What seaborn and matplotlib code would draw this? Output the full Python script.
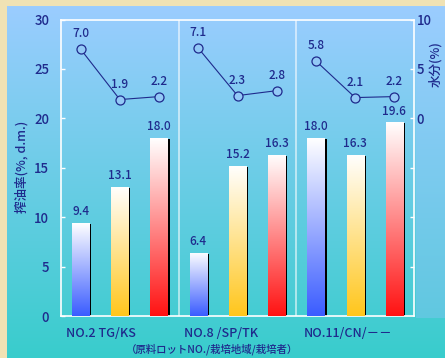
import numpy as np
import pandas as pd
import matplotlib
matplotlib.use("Agg")
import matplotlib.pyplot as plt
from matplotlib.patches import Rectangle
from matplotlib.colors import to_rgb
import seaborn as sns

sns.set_theme(style="white")
plt.rcParams["font.family"] = ["Noto Sans CJK JP", "DejaVu Sans"]
plt.rcParams["font.weight"] = "medium"

# ---- data ----
lots = ["NO.2 TG/KS", "NO.8 /SP/TK", "NO.11/CN/－－"]
varieties = ["A", "B", "C"]
oil_yield = [9.4, 13.1, 18.0, 6.4, 15.2, 16.3, 18.0, 16.3, 19.6]   # 搾油率 (%, d.m.)
moisture = [7.0, 1.9, 2.2, 7.1, 2.3, 2.8, 5.8, 2.1, 2.2]           # 水分 (%)
left_ticks = [0, 5, 10, 15, 20, 25, 30]
right_ticks = [10, 5, 0, -5, -10, -15]
right_tick_labels = ["10", "5", "0", "", "", ""]

NAVY = "#1f2a8c"
BAR_BASE = ["#3a5cff", "#ffc61c", "#ff1212"]

n_groups = len(lots)
n_per = len(varieties)
df = pd.DataFrame({
    "slot": [f"{g}-{v}" for g in range(n_groups) for v in varieties],
    "lot": [lots[g] for g in range(n_groups) for _ in varieties],
    "variety": varieties * n_groups,
    "oil": oil_yield,
    "moisture": moisture,
})
df["pos"] = np.arange(len(df))

W, H = 445, 358
fig = plt.figure(figsize=(W / 100, H / 100), dpi=100)

# ---- background panel with gradient ----
bg = fig.add_axes([0, 0, 1, 1])
bg.set_axis_off()
img = np.zeros((H, W, 3))
beige = np.array(to_rgb("#f0e2b4"))
top_c = np.array([155, 205, 255]) / 255
bot_c = np.array([56, 204, 204]) / 255
side_bot = np.array([96, 200, 224]) / 255
rows = np.arange(H)[:, None]
t = np.clip((rows - 6) / (H - 6), 0, 1)
img[:] = (top_c * (1 - t) + bot_c * t)[:, None, :]
t2 = np.clip((rows - 6) / (318 - 6), 0, 1)
side = (top_c * (1 - t2) + side_bot * t2)
img[:318, 416:] = side[:318, None, :]
img[:6, :] = beige
img[:, :7] = beige
bg.imshow(img, aspect="auto", extent=[0, 1, 0, 1], transform=bg.transAxes)
bg.set_xlim(0, 1)
bg.set_ylim(0, 1)

# ---- main axes ----
ax = fig.add_axes([61 / W, 42 / H, 353 / W, 296.5 / H])
ax.set_facecolor("none")

sns.barplot(data=df, x="slot", y="oil", order=list(df["slot"]), width=0.44,
            color="white", ax=ax, zorder=3)

# gradient fill and drop shadow for each bar
for i, patch in enumerate(list(ax.patches)):
    x0, y0 = patch.get_x(), patch.get_y()
    w, h = patch.get_width(), patch.get_height()
    ax.add_patch(Rectangle((x0 + 0.05, 0), w, h - 0.1, facecolor="black",
                           edgecolor="none", zorder=2))
    base = np.array(to_rgb(BAR_BASE[i % n_per]))
    s = np.linspace(0, 1, 256)[:, None]
    grad = base * (1 - s) + np.ones(3) * s
    im = ax.imshow(grad[:, None, :], extent=[x0, x0 + w, 0, h], origin="lower",
                   aspect="auto", zorder=3.5)
    im.set_clip_path(patch)
    patch.set_facecolor("none")
    patch.set_edgecolor("none")
    ax.annotate(f"{oil_yield[i]:.1f}", (x0 + w / 2, h), xytext=(0, 8),
                textcoords="offset points", ha="center", va="center",
                fontsize=8.5, color=NAVY, zorder=5)

ax.set_xlim(-0.5, len(df) - 0.5)
ax.set_ylim(0, 30)
ax.set_yticks(left_ticks)
ax.set_xlabel("")
ax.set_ylabel("")

# group label positions and bar-boundary ticks
group_label_x = [0.53, 3.58, 6.83]
ax.set_xticks(group_label_x)
ax.set_xticklabels(lots)
ax.set_xticks([b + 0.5 for b in range(len(df) - 1)], minor=True)
ax.tick_params(axis="x", which="major", length=0, pad=8, labelsize=9,
               labelcolor=NAVY)
ax.tick_params(axis="x", which="minor", direction="in", length=3, width=1,
               color="white")
ax.tick_params(axis="y", direction="in", length=3, width=1, color="white",
               labelsize=9.5, labelcolor=NAVY, pad=8.5)
for sp in ax.spines.values():
    sp.set_color("white")
    sp.set_linewidth(1.2)
    sp.set_visible(True)

for b in range(1, n_groups):
    ax.axvline(b * n_per - 0.5, color="white", lw=1.2, alpha=0.65, zorder=1)

# ---- moisture line on secondary axis ----
ax2 = ax.twinx()
sns.lineplot(data=df, x="pos", y="moisture", units="lot", estimator=None,
             color=NAVY, lw=0.8, marker="o", markersize=6.5,
             markerfacecolor="#93c9f6", markeredgecolor=NAVY,
             markeredgewidth=0.9, ax=ax2, zorder=4)
for x, v in zip(df["pos"], moisture):
    ax2.annotate(f"{v:.1f}", (x, v), xytext=(0, 11), textcoords="offset points",
                 ha="center", va="center", fontsize=8.5, color=NAVY)
ax2.set_xlim(-0.5, len(df) - 0.5)
ax2.set_ylim(-20, 10)
ax2.set_yticks(right_ticks)
ax2.set_yticklabels(right_tick_labels)
ax2.set_xlabel("")
ax2.set_ylabel("")
ax2.tick_params(axis="y", direction="in", length=3, width=1, color="white",
                labelsize=9.5, labelcolor=NAVY, pad=2)
for sp in ax2.spines.values():
    sp.set_visible(False)

# ---- axis titles ----
fig.text(22 / W, 1 - 167 / H, "搾油率(%, d.m.)", rotation=90, ha="center",
         va="center", fontsize=9, color=NAVY)
fig.text(436 / W, 1 - 64 / H, "水分(%)", rotation=90, ha="center",
         va="center", fontsize=9, color=NAVY)
fig.text(212 / W, 1 - 349 / H, "（原料ロットNO./栽培地域/栽培者）", ha="center",
         va="center", fontsize=7.5, color=NAVY)

fig.savefig("out.png", dpi=100)
